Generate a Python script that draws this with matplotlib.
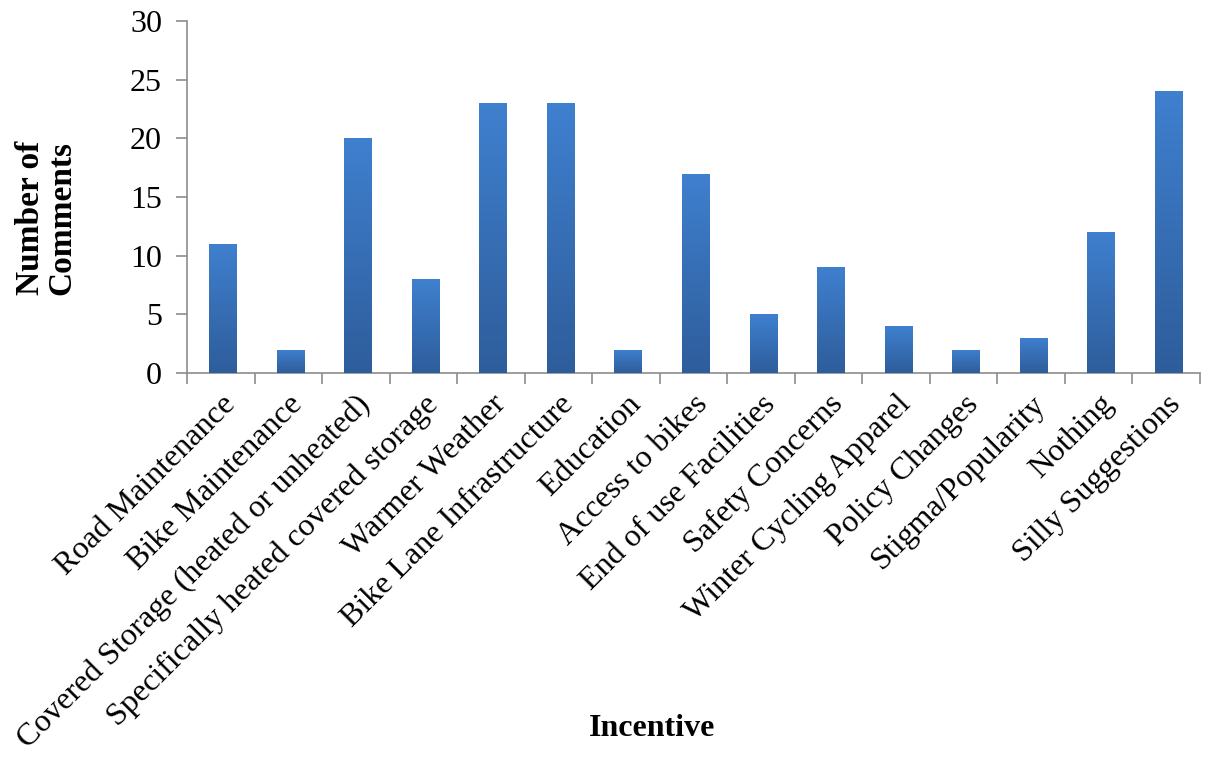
import matplotlib
matplotlib.use("Agg")
import matplotlib.pyplot as plt
import numpy as np
from matplotlib.colors import LinearSegmentedColormap

categories = [
    "Road Maintenance", "Bike Maintenance", "Covered Storage (heated or unheated)",
    "Specifically heated covered storage", "Warmer Weather", "Bike Lane Infrastructure",
    "Education", "Access to bikes", "End of use Facilities", "Safety Concerns",
    "Winter Cycling Apparel", "Policy Changes", "Stigma/Popularity", "Nothing",
    "Silly Suggestions",
]
comments = [11, 2, 20, 8, 23, 23, 2, 17, 5, 9, 4, 2, 3, 12, 24]
y_ticks = [0, 5, 10, 15, 20, 25, 30]

plt.rcParams["font.family"] = ["Liberation Serif", "DejaVu Serif"]

fig = plt.figure(figsize=(12.15, 7.63), dpi=100)
ax = fig.add_axes([187 / 1215, 1 - 373 / 763, (1200 - 187) / 1215, (373 - 21) / 763])

x = np.arange(len(categories))
bars = ax.bar(x + 0.03, comments, width=0.4, color="#3870b8", zorder=2)

# vertical gradient fill, clipped to each bar
grad_cmap = LinearSegmentedColormap.from_list("bar", ["#2e5d9b", "#3f80cf"])
grad = np.linspace(0, 1, 256).reshape(-1, 1)
for b in bars:
    x0, y0 = b.get_x(), b.get_y()
    im = ax.imshow(grad, cmap=grad_cmap, origin="lower", aspect="auto",
                   extent=[x0, x0 + b.get_width(), y0, y0 + b.get_height()], zorder=3)
    im.set_clip_path(b)

ax.set_xlim(-0.5, len(categories) - 0.5)
ax.set_ylim(0, 30)
ax.set_yticks(y_ticks)
ax.tick_params(axis="y", labelsize=23, color="#8c8c8c", length=8, width=1.2, pad=10)

ax.set_xticks(x)
ax.set_xticklabels(categories, rotation=45, ha="right", rotation_mode="anchor", fontsize=23)
ax.set_xticks(np.arange(-0.5, len(categories), 1.0), minor=True)
ax.tick_params(axis="x", which="major", length=0, pad=12)
ax.tick_params(axis="x", which="minor", length=8, width=1.2, color="#8c8c8c")

for side in ["top", "right"]:
    ax.spines[side].set_visible(False)
for side in ["left", "bottom"]:
    ax.spines[side].set_color("#8c8c8c")
    ax.spines[side].set_linewidth(1.2)

fig.text(46 / 1215, 1 - 218 / 763, "Number of\nComments", rotation=90, ha="center",
         va="center", fontsize=24, fontweight="bold", linespacing=1.0)
fig.text(652 / 1215, 1 - 728 / 763, "Incentive", ha="center", va="center",
         fontsize=23, fontweight="bold")

fig.savefig("out.png", dpi=100)
